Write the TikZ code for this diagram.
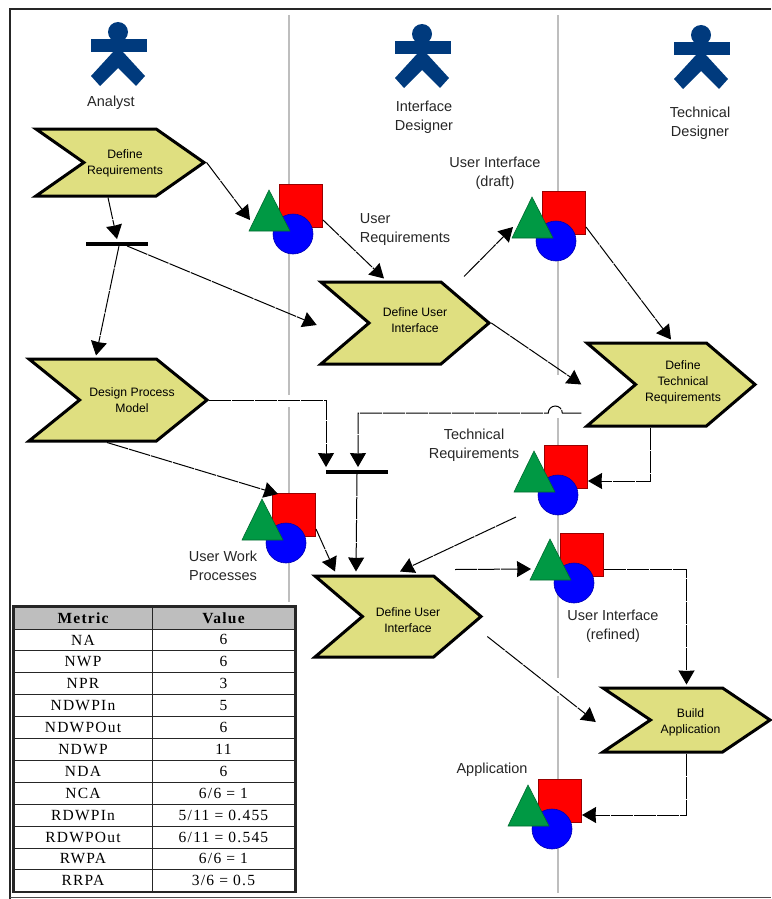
\documentclass[tikz,border=0pt]{standalone}
\usepackage{fontspec}
\setmainfont{Liberation Sans}
\newfontfamily\tablefont[LetterSpace=8]{Liberation Serif}
\usetikzlibrary{arrows.meta,shapes.symbols,fit}

\definecolor{khaki}{RGB}{223,223,128}
\definecolor{navy}{RGB}{0,58,125}
\definecolor{leaf}{RGB}{0,153,68}
\definecolor{lanegray}{RGB}{190,190,190}

\tikzstyle{activity} = [signal, signal from=west, signal to=east, draw=black, line width=3pt, fill=khaki, inner sep=0pt]
\tikzstyle{activitytext} = [align=center, inner sep=0pt, font=\fontsize{12.2}{16}\selectfont]
\tikzstyle{bar} = [rectangle, fill=black, minimum width=62pt, minimum height=3.5pt, inner sep=0pt]
\tikzstyle{caption} = [align=center, inner sep=0pt, text=black!85, font=\fontsize{14.5}{19}\selectfont]
\tikzstyle{arrow} = [line width=1pt, ->, >={Stealth[length=14pt,width=16pt,inset=0.5pt]}, dash pattern=on 22pt off 1pt]
\tikzstyle{lane} = [lanegray, line width=1.2pt]
\tikzstyle{cell} = [rectangle, draw=black!85, line width=0.8pt, minimum height=21.9pt, inner sep=0pt, text centered, font=\tablefont\fontsize{15.5}{17}\selectfont]
\tikzstyle{metric} = [cell, minimum width=138pt]
\tikzstyle{value} = [cell, minimum width=143pt]

\newcommand{\artifact}[3]{
\node (#1) [rectangle, draw=red!60!black, line width=0.6pt, fill=red, minimum size=43pt, inner sep=0pt] at (#2+7.5,#3-28) {};
\node (#1-round) [circle, draw=blue!70!black, line width=0.6pt, fill=blue, minimum size=40pt, inner sep=0pt] at (#2,#3) {};
\draw [draw=leaf!70!black, line width=0.6pt, fill=leaf] (#2-24,#3-44) -- (#2-3,#3-3) -- (#2-44,#3-3) -- cycle;
\coordinate (#1-in) at (#2-43,#3-14);
\coordinate (#1-out) at (#2+30,#3-14);
\coordinate (#1-top) at (#2-8,#3-49);
\coordinate (#1-low) at (#2-42,#3+22);
}
\newcommand{\actor}[3]{
\node (#1) [circle, fill=navy, minimum size=20pt, inner sep=0pt] at (#2,#3) {};
\node (#1-arms) [rectangle, fill=navy, minimum width=56pt, minimum height=13pt, inner sep=0pt] at (#2+1,#3+13.5) {};
\fill [navy] (#2-5,#3+20) -- (#2-27,#3+44) -- (#2-18,#3+54) -- (#2,#3+36) -- (#2+18,#3+54) -- (#2+27,#3+44) -- (#2+5,#3+20) -- cycle;
}

\begin{document}
\begin{tikzpicture}[x=1pt,y=-1pt,node distance=21.9pt]
\useasboundingbox (0,0) rectangle (771,899);

% frame
\coordinate (framea) at (771,9);
\coordinate (frameb) at (10,9);
\coordinate (framec) at (10,899);
\coordinate (framed) at (10,897);
\coordinate (framee) at (771,897);
\draw [line width=2.5pt, black!85] (framea) -- (frameb) -- (framec);
\draw [line width=1pt, black!70] (framed) -- (framee);

% lanes
\coordinate (lanea1) at (289,15);
\coordinate (lanea2) at (289,395);
\coordinate (lanea3) at (289,407);
\coordinate (lanea4) at (289,602);
\coordinate (laneb1) at (558,15);
\coordinate (laneb2) at (558,375);
\coordinate (laneb3) at (558,418);
\coordinate (laneb4) at (558,678);
\coordinate (laneb5) at (558,696);
\coordinate (laneb6) at (558,893);
\draw [lane] (lanea1) -- (lanea2) (lanea3) -- (lanea4);
\draw [lane] (laneb1) -- (laneb2) (laneb3) -- (laneb4) (laneb5) -- (laneb6);

% actors
\actor{analyst}{118}{32}
\actor{designer}{422}{34}
\actor{technician}{701}{35}
\node (analystname) [caption] at (111,103) {Analyst};
\node (designername) [caption] at (424,117) {Interface\\Designer};
\node (technicianname) [caption] at (700,123) {Technical\\Designer};

% activities
\node (reqs) [activity, minimum width=168pt, minimum height=67pt, signal pointer angle=70, label={[name=reqstext, activitytext, xshift=5pt, yshift=-1pt]center:{Define\\Requirements}}] at (120,162.5) {};
\node (ui) [activity, minimum width=168pt, minimum height=82pt, signal pointer angle=81, label={[name=uitext, activitytext, xshift=10pt, yshift=3pt]center:{Define User\\Interface}}] at (405,323) {};
\node (tech) [activity, minimum width=168pt, minimum height=83pt, signal pointer angle=81, label={[name=techtext, activitytext, xshift=12pt, yshift=2pt]center:{Define\\Technical\\Requirements}}] at (671,384.5) {};
\node (process) [activity, minimum width=178pt, minimum height=82pt, signal pointer angle=78, label={[name=processtext, activitytext, xshift=14pt]center:{Design Process\\Model}}] at (118,400) {};
\node (refine) [activity, minimum width=166pt, minimum height=81pt, signal pointer angle=81, label={[name=refinetext, activitytext, xshift=10pt, yshift=-4pt]center:{Define User\\Interface}}] at (398,616.5) {};
\node (build) [activity, minimum width=167pt, minimum height=64pt, signal pointer angle=68, label={[name=buildtext, activitytext, xshift=4pt, yshift=-2pt]center:{Build\\Application}}] at (686.5,720) {};

% forks
\node (forka) [bar] at (117,244) {};
\node (forkb) [bar] at (357,472) {};

% artifacts
\artifact{userreq}{293}{234}
\artifact{draft}{556}{241}
\artifact{techreq}{558}{495}
\artifact{refined}{574}{583}
\artifact{workproc}{286}{543}
\artifact{app}{552}{829}
\node (userreqname) [caption, align=left] at (405,230) {User\\Requirements};
\node (draftname) [caption] at (495,173) {User Interface\\(draft)};
\node (techreqname) [caption] at (474,445) {Technical\\Requirements};
\node (refinedname) [caption] at (613,626) {User Interface\\(refined)};
\node (workprocname) [caption] at (223,566) {User Work\\Processes};
\node (appname) [caption] at (492,770) {Application};

% connectors
\draw [arrow] (reqs.east) -- (userreq-in);
\draw [arrow] ([xshift=-12pt]reqs.south) -- ([yshift=3pt]forka.north);
\draw [arrow] ([xshift=2pt]forka.south) -- ([xshift=-22pt,yshift=2pt]process.north);
\draw [arrow] ([xshift=10pt]forka.south) -- ([xshift=-50pt,yshift=-2pt]ui.west);
\draw [arrow] (userreq-out) -- ([xshift=-21pt,yshift=2pt]ui.north);
\draw [arrow] ([xshift=59pt,yshift=4pt]ui.north) -- (draft-in);
\draw [arrow] (draft-out) -- ([yshift=2pt]tech.north);
\draw [arrow] (ui.east) -- ([xshift=-52pt]tech.west);
\draw [arrow] ([xshift=-52pt,yshift=-28.5pt]tech.west) -- ++(-19,0) arc[start angle=0,end angle=180,radius=7pt] -| ([xshift=1pt,yshift=3pt]forkb.north);
\draw [arrow] (process.east) -| ([xshift=-31pt,yshift=3pt]forkb.north);
\draw [arrow] (forkb.south) -- ([xshift=-42pt,yshift=3pt]refine.north);
\draw [arrow] (workproc-out) -- ([xshift=-63pt,yshift=3pt]refine.north);
\draw [arrow] ([xshift=-11pt]process.south) -- (workproc-top);
\draw [arrow] ([xshift=-21pt]tech.south) |- (techreq-out);
\draw [arrow] (techreq-low) -- ([xshift=2pt,yshift=3pt]refine.north);
\draw [arrow] ([xshift=57pt,yshift=5pt]refine.north) -- (refined-in);
\draw [arrow] (refined-out) -| ([yshift=2pt]build.north);
\draw [arrow] ([xshift=4pt,yshift=-20pt]refine.east) -- ([xshift=-52pt,yshift=-2pt]build.west);
\draw [arrow] (build.south) |- (app-out);

% metrics table
\node (m0) [metric, fill=lanegray, font=\tablefont\bfseries\fontsize{15.5}{17}\selectfont] at (83,618) {Metric};
\node (m1) [metric, below of=m0] {NA};
\node (m2) [metric, below of=m1] {NWP};
\node (m3) [metric, below of=m2] {NPR};
\node (m4) [metric, below of=m3] {NDWPIn};
\node (m5) [metric, below of=m4] {NDWPOut};
\node (m6) [metric, below of=m5] {NDWP};
\node (m7) [metric, below of=m6] {NDA};
\node (m8) [metric, below of=m7] {NCA};
\node (m9) [metric, below of=m8] {RDWPIn};
\node (m10) [metric, below of=m9] {RDWPOut};
\node (m11) [metric, below of=m10] {RWPA};
\node (m12) [metric, below of=m11] {RRPA};
\node (v0) [value, fill=lanegray, font=\tablefont\bfseries\fontsize{15.5}{17}\selectfont] at (223.5,618) {Value};
\node (v1) [value, below of=v0] {6};
\node (v2) [value, below of=v1] {6};
\node (v3) [value, below of=v2] {3};
\node (v4) [value, below of=v3] {5};
\node (v5) [value, below of=v4] {6};
\node (v6) [value, below of=v5] {11};
\node (v7) [value, below of=v6] {6};
\node (v8) [value, below of=v7] {6/6 = 1};
\node (v9) [value, below of=v8] {5/11 = 0.455};
\node (v10) [value, below of=v9] {6/11 = 0.545};
\node (v11) [value, below of=v10] {6/6 = 1};
\node (v12) [value, below of=v11] {3/6 = 0.5};
\node (tableframe) [draw=black!85, line width=2.5pt, inner sep=0pt, fit=(m0)(v12)] {};

\end{tikzpicture}
\end{document}
